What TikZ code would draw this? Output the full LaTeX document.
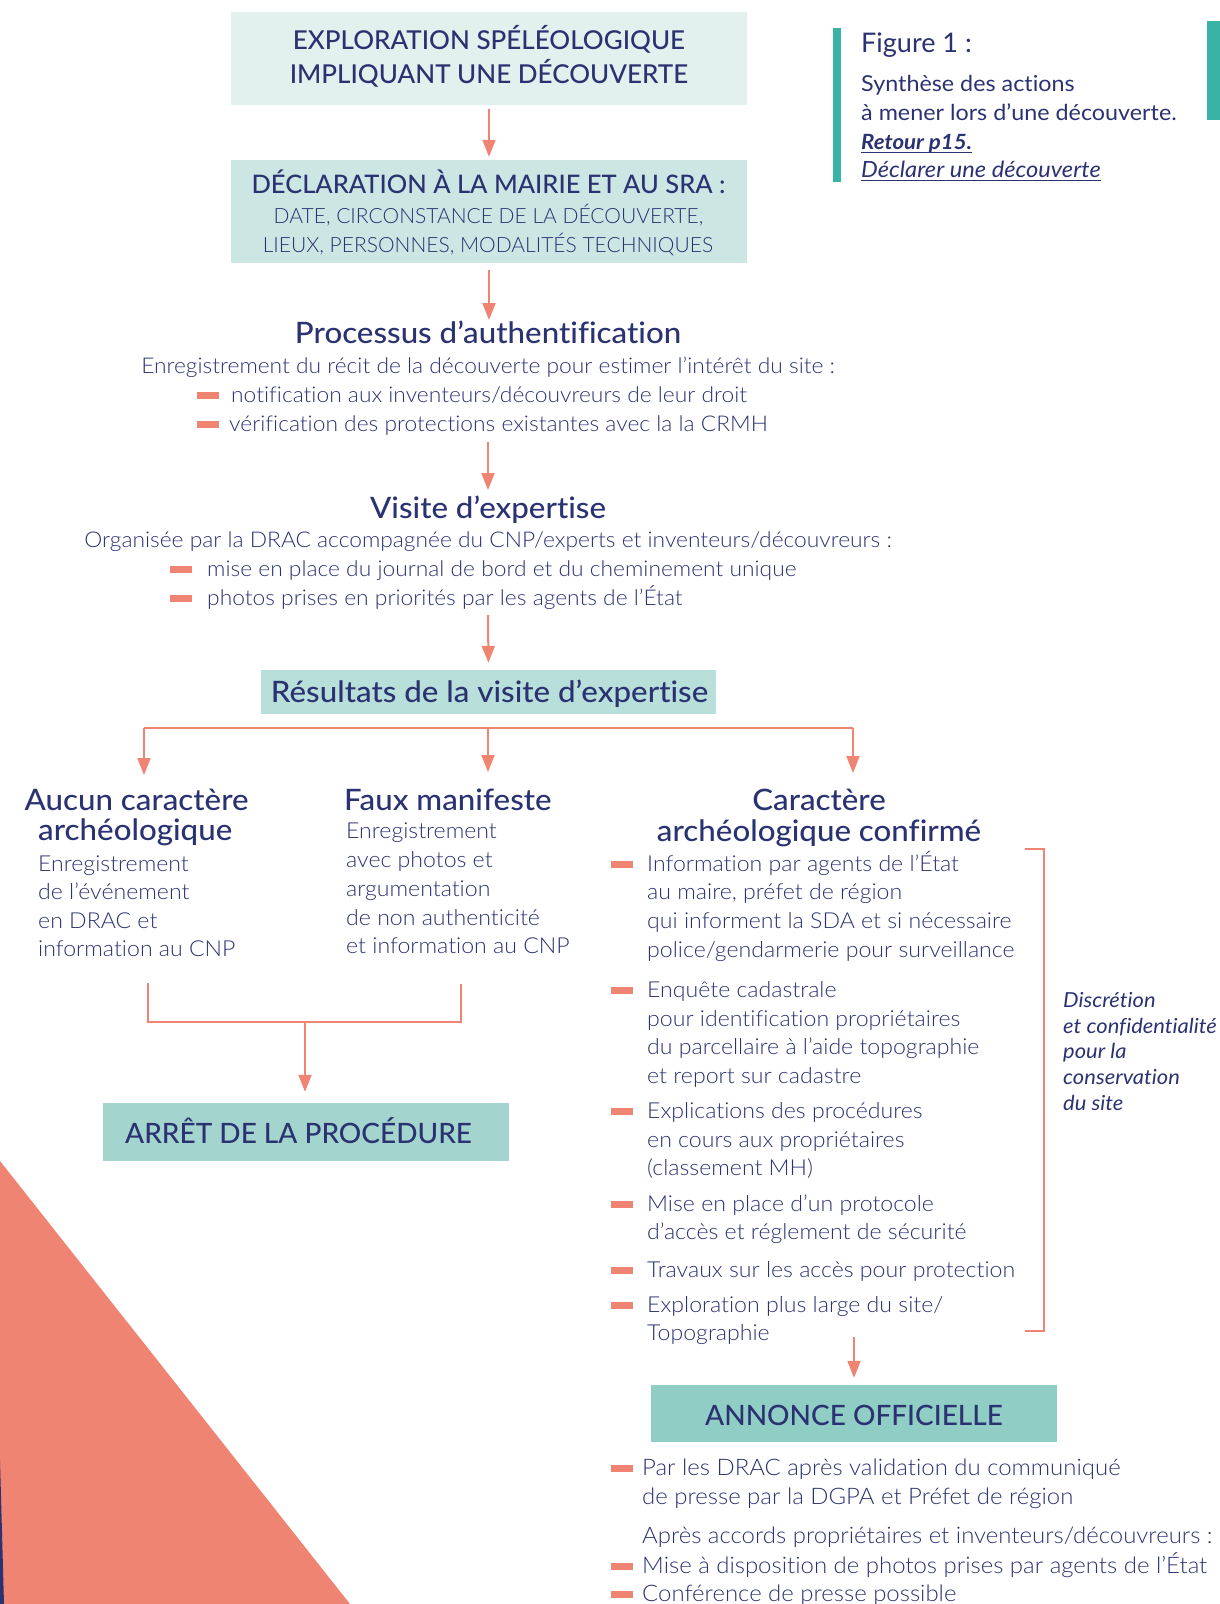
\documentclass[tikz,border=0pt]{standalone}
\usepackage{fontspec}
\setmainfont{Lato}
\newfontfamily\lt{Lato Light}[Ligatures=NoCommon]
\newfontfamily\md{Lato Medium}[Ligatures=NoCommon]
\newfontfamily\ltw{Lato Light}[FakeStretch=1.05, Ligatures=NoCommon]
\newfontfamily\mdw{Lato Medium}[FakeStretch=1.06, Ligatures=NoCommon]
\newfontfamily\rgw{Lato}[FakeStretch=1.06, Ligatures=NoCommon]
\usetikzlibrary{arrows.meta}
\definecolor{navy}{HTML}{2B3272}
\definecolor{salmon}{HTML}{F08472}
\definecolor{tealbar}{HTML}{3AB3A7}
\definecolor{fillA}{HTML}{E2F1EE}
\definecolor{fillB}{HTML}{CCE7E3}
\definecolor{fillC}{HTML}{B8DFD9}
\definecolor{fillD}{HTML}{A3D5CE}
\definecolor{fillE}{HTML}{90CEC5}
\tikzset{
  boxnode/.style={draw=none, inner sep=0pt, rectangle},
  tw/.style={inner sep=0pt, anchor=base west, text=navy},
  tc/.style={inner sep=0pt, anchor=base, text=navy},
  ttl/.style={font=\mdw\fontsize{29.5}{34}\selectfont},
  capt/.style={font=\md\fontsize{28}{34}\selectfont},
  capb/.style={font=\md\fontsize{26}{34}\selectfont},
  bodyc/.style={font=\ltw\fontsize{21.7}{29}\selectfont},
  bodyl/.style={font=\ltw\fontsize{22}{29}\selectfont},
  bodyb/.style={font=\ltw\fontsize{22.8}{29}\selectfont},
  sidei/.style={font=\rgw\itshape\fontsize{20.7}{26}\selectfont},
  arr/.style={draw=salmon, line width=2pt, -{Triangle[length=17pt,width=13pt]}},
  lnk/.style={draw=salmon, line width=2pt},
  dashmark/.style={fill=salmon},
}
\newcommand{\dashat}[2]{\fill[dashmark] (#1,#2-10) rectangle ++(22,6.5);}
\begin{document}
\begin{tikzpicture}[x=1pt,y=-1pt]
\useasboundingbox (0,0) rectangle (1220,1604);
% decorative shapes
\fill[salmon] (0,1161) -- (350,1604) -- (0,1604) -- cycle;
\fill[navy] (0,1460) -- (4,1604) -- (0,1604) -- cycle;
\fill[tealbar] (1207,21) rectangle (1220,120);
\fill[tealbar] (833,28) rectangle (841,182);

% Figure caption
\node[tw, font=\fontsize{27}{32}\selectfont] (fig) at (861,52) {Figure 1 :};
\node[tw, font=\rgw\fontsize{22}{28}\selectfont] (syn1) at (861,91) {Synthèse des actions};
\node[tw, font=\rgw\fontsize{22}{28}\selectfont] (syn2) at (861,120) {à mener lors d’une découverte.};
\node[tw, font=\rgw\bfseries\itshape\fontsize{21}{28}\selectfont] (ret) at (861,149) {Retour p15.};
\node[tw, font=\rgw\itshape\fontsize{22.3}{28}\selectfont] (decl) at (861,177) {Déclarer une découverte};
\draw[navy, line width=1pt] ([yshift=-3pt]ret.base west) -- ([yshift=-3pt]ret.base east);
\draw[navy, line width=1pt] ([yshift=-3pt]decl.base west) -- ([yshift=-3pt]decl.base east);

% box 1
\node[boxnode, fill=fillA, minimum width=516pt, minimum height=93pt] (b1) at (489,58.5) {};
\node[tc, capb] (b1a) at (489,49) {EXPLORATION SPÉLÉOLOGIQUE};
\node[tc, capb] (b1b) at (489,83) {IMPLIQUANT UNE DÉCOUVERTE};

% box 2
\node[boxnode, fill=fillB, minimum width=516pt, minimum height=103pt] (b2) at (489,211.5) {};
\node[tc, font=\md\fontsize{25.5}{30}\selectfont] (b2a) at (488.5,193) {DÉCLARATION À LA MAIRIE ET AU SRA :};
\node[tc, font=\lt\fontsize{21}{29}\selectfont] (b2b) at (488.5,223) {DATE, CIRCONSTANCE DE LA DÉCOUVERTE,};
\node[tc, font=\lt\fontsize{21}{29}\selectfont] (b2c) at (488,252) {LIEUX, PERSONNES, MODALITÉS TECHNIQUES};

\draw[arr, shorten <=4pt, shorten >=3pt] (b1.south) -- (b2.north);

% authentification
\coordinate (c2) at (489,320);
\draw[arr, shorten <=7pt] (b2.south) -- (c2);
\node[tc, ttl] (auth) at (488,343) {Processus d’authentification};
\node[tc, bodyc] (auth1) at (488,373) {Enregistrement du récit de la découverte pour estimer l’intérêt du site :};
\dashat{197}{402}
\node[tw, bodyc] (auth2) at (231,402) {notification aux inventeurs/découvreurs de leur droit};
\dashat{197}{431}
\node[tw, bodyc] (auth3) at (229,431) {vérification des protections existantes avec la la CRMH};

\coordinate (c3s) at (488,442);
\coordinate (c3e) at (488,490);
\draw[arr] (c3s) -- (c3e);

% visite
\node[tc, ttl] (vis) at (488,518) {Visite d’expertise};
\node[tc, bodyc] (vis1) at (488,547) {Organisée par la DRAC accompagnée du CNP/experts et inventeurs/découvreurs :};
\dashat{170}{576}
\node[tw, bodyc] (vis2) at (207,576) {mise en place du journal de bord et du cheminement unique};
\dashat{170}{605}
\node[tw, bodyc] (vis3) at (207,605) {photos prises en priorités par les agents de l’État};

% resultats
\node[boxnode, fill=fillC, minimum width=455pt, minimum height=44pt] (res) at (488.5,692) {};
\node[tc, ttl] (rest) at (489.5,702) {Résultats de la visite d’expertise};
\coordinate (c4s) at (488,615);
\draw[arr, shorten >=7pt] (c4s) -- (res.north);

% branches
\coordinate (hL) at (144,728);
\coordinate (hM) at (488,728);
\coordinate (hR) at (853,728);
\coordinate (eL) at (144,775);
\coordinate (eM) at (488,772);
\coordinate (eR) at (853,773);
\draw[lnk] (hL) -- (hR);
\draw[arr] (hL) -- (eL);
\draw[arr] (hM) -- (eM);
\draw[arr] (hR) -- (eR);

% column 1
\node[tw, ttl] (au1) at (24.5,810) {Aucun caractère};
\node[tw, ttl] (au2) at (38,840) {archéologique};
\node[tw, bodyl] (au3) at (38,871) {Enregistrement};
\node[tw, bodyl] (au4) at (38,899.5) {de l’événement};
\node[tw, bodyl] (au5) at (38,928) {en DRAC et};
\node[tw, bodyl] (au6) at (38,956.5) {information au CNP};

% column 2
\node[tw, ttl] (fx1) at (344,810) {Faux manifeste};
\node[tw, bodyl] (fx2) at (346,838) {Enregistrement};
\node[tw, bodyl] (fx3) at (346,867) {avec photos et};
\node[tw, bodyl] (fx4) at (346,896) {argumentation};
\node[tw, bodyl] (fx5) at (346,925) {de non authenticité};
\node[tw, bodyl] (fx6) at (346,953) {et information au CNP};

% join to arret
\coordinate (jL) at (148,983);
\coordinate (jR) at (461,984);
\coordinate (jM) at (305,1022);
\draw[lnk] (jL) |- (jR |- jM) -- (jR);
\node[boxnode, fill=fillD, minimum width=406pt, minimum height=58pt] (arret) at (306,1132) {};
\node[tw, capt] (arrett) at (125,1143) {ARRÊT DE LA PROCÉDURE};
\draw[arr, shorten >=11pt] (jM) -- (arret.north -| jM);

% column 3
\node[tc, ttl] (cf1) at (819,810) {Caractère};
\node[tc, ttl] (cf2) at (819,841) {archéologique confirmé};
\dashat{611}{871}
\node[tw, bodyl] (r1a) at (647,871) {Information par agents de l’État};
\node[tw, bodyl] (r1b) at (647,899) {au maire, préfet de région};
\node[tw, bodyl] (r1c) at (647,928) {qui informent la SDA et si nécessaire};
\node[tw, bodyl] (r1d) at (647,957) {police/gendarmerie pour surveillance};
\dashat{611}{997}
\node[tw, bodyl] (r2a) at (647,997) {Enquête cadastrale};
\node[tw, bodyl] (r2b) at (647,1026) {pour identification propriétaires};
\node[tw, bodyl] (r2c) at (647,1054) {du parcellaire à l’aide topographie};
\node[tw, bodyl] (r2d) at (647,1083) {et report sur cadastre};
\dashat{611}{1118}
\node[tw, bodyl] (r3a) at (647,1118) {Explications des procédures};
\node[tw, bodyl] (r3b) at (647,1147) {en cours aux propriétaires};
\node[tw, bodyl] (r3c) at (647,1175) {(classement MH)};
\dashat{611}{1211}
\node[tw, bodyl] (r4a) at (647,1211) {Mise en place d’un protocole};
\node[tw, bodyl] (r4b) at (647,1239) {d’accès et réglement de sécurité};
\dashat{611}{1277}
\node[tw, bodyl] (r5a) at (647,1277) {Travaux sur les accès pour protection};
\dashat{611}{1312}
\node[tw, bodyl] (r6a) at (647,1312) {Exploration plus large du site/};
\node[tw, bodyl] (r6b) at (647,1340) {Topographie};

% right bracket + side note
\coordinate (kT) at (1025,849);
\coordinate (kB) at (1025,1331);
\draw[lnk] (kT) -- (1044,849) -- (1044,1331) -- (kB);
\node[tw, sidei] (s1) at (1063,1007) {Discrétion};
\node[tw, sidei] (s2) at (1063,1033) {et confidentialité};
\node[tw, sidei] (s3) at (1063,1058) {pour la};
\node[tw, sidei] (s4) at (1063,1084) {conservation};
\node[tw, sidei] (s5) at (1063,1110) {du site};

% annonce
\coordinate (c9s) at (854,1337);
\node[boxnode, fill=fillE, minimum width=406pt, minimum height=57pt] (ann) at (854,1413.5) {};
\node[tc, capt] (annt) at (854,1425) {ANNONCE OFFICIELLE};
\draw[arr, shorten >=7pt] (c9s) -- (ann.north);

\dashat{611}{1475}
\node[tw, bodyb] (p1a) at (642,1475) {Par les DRAC après validation du communiqué};
\node[tw, bodyb] (p1b) at (642,1504) {de presse par la DGPA et Préfet de région};
\node[tw, bodyb] (p2) at (642,1543) {Après accords propriétaires et inventeurs/découvreurs :};
\dashat{611}{1573}
\node[tw, bodyb] (p3) at (642,1573) {Mise à disposition de photos prises par agents de l’État};
\dashat{611}{1601}
\node[tw, bodyb] (p4) at (642,1601) {Conférence de presse possible};
\end{tikzpicture}
\end{document}
